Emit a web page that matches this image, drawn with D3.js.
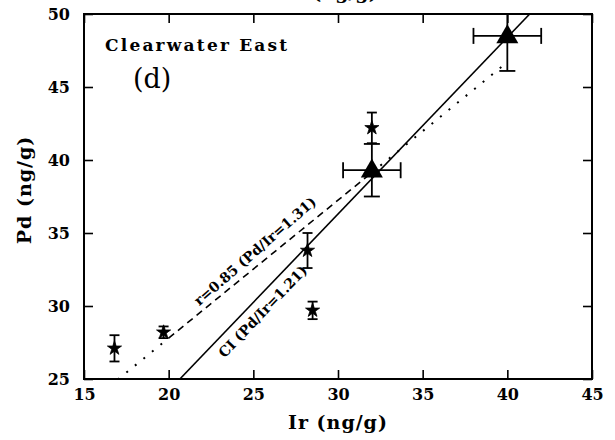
<!DOCTYPE html>
<html>
<head>
<meta charset="utf-8">
<script src="https://cdn.jsdelivr.net/npm/d3@7"></script>
<style>
  html, body { margin: 0; padding: 0; background: #fff; }
  svg { display: block; }
  .serif { font-family: "DejaVu Serif", serif; font-weight: bold; }
</style>
</head>
<body>
<div id="chart"></div>
<script>
// Data
const starIr = [16.8, 19.7, 28.2, 28.5, 32.0];
const starPd = [27.1, 28.2, 33.8, 29.7, 42.2];
const starPdErr = [0.9, 0.4, 1.2, 0.6, 1.05];

const triIr = [32.0, 40.0];
const triPd = [39.3, 48.5];
const triIrErr = [1.7, 2.0];
const triPdErr = [1.8, 2.4];

const xTicks = [15, 20, 25, 30, 35, 40, 45];
const yTicks = [25, 30, 35, 40, 45, 50];

// regression (r=0.85) and CI ratio line
const regSlope = 0.945;
const regIntercept = 8.9;
const regDotLow = [17.0, 20.0];
const regDash = [20.0, 32.0];
const regDotHigh = [32.0, 39.7];
const ciRatio = 1.21;

const width = 615;
const height = 440;
const margin = { top: 14, right: 23, bottom: 61, left: 84 };

const svg = d3
  .select("#chart")
  .append("svg")
  .attr("width", width)
  .attr("height", height);

const x = d3
  .scaleLinear()
  .domain([15, 45])
  .range([margin.left, width - margin.right]);
const y = d3
  .scaleLinear()
  .domain([25, 50])
  .range([height - margin.bottom, margin.top]);

svg
  .append("clipPath")
  .attr("id", "plot-clip")
  .append("rect")
  .attr("x", margin.left)
  .attr("y", margin.top)
  .attr("width", x(45) - x(15))
  .attr("height", y(25) - y(50));

// cut-off title of the panel above
svg
  .append("text")
  .attr("class", "serif")
  .attr("x", 345)
  .attr("y", -1)
  .attr("text-anchor", "middle")
  .attr("font-size", 19)
  .text("(ng/g)");

// Axes (ticks pointing inward on all four sides)
const tickLen = 9;
const axisStyle = (g) =>
  g
    .attr("font-size", null)
    .attr("font-family", null)
    .call((g) => g.select(".domain").remove())
    .call((g) => g.selectAll(".tick line").attr("stroke", "#000").attr("stroke-width", 1.6));

svg
  .append("g")
  .attr("class", "serif")
  .attr("font-size", 19)
  .attr("transform", `translate(0,${y(25)})`)
  .call(d3.axisBottom(x).tickValues(xTicks).tickSize(-tickLen).tickPadding(10).tickFormat(d3.format("d")))
  .call(axisStyle)
  .call((g) => g.selectAll(".tick text").attr("fill", "#000"));
svg
  .append("g")
  .attr("transform", `translate(0,${y(50)})`)
  .call(d3.axisTop(x).tickValues(xTicks).tickSize(-tickLen).tickFormat(""))
  .call(axisStyle);
svg
  .append("g")
  .attr("class", "serif")
  .attr("font-size", 19)
  .attr("transform", `translate(${x(15)},0)`)
  .call(d3.axisLeft(y).tickValues(yTicks).tickSize(-tickLen).tickPadding(14).tickFormat(d3.format("d")))
  .call(axisStyle)
  .call((g) => g.selectAll(".tick text").attr("fill", "#000"));
svg
  .append("g")
  .attr("transform", `translate(${x(45)},0)`)
  .call(d3.axisRight(y).tickValues(yTicks).tickSize(-tickLen).tickFormat(""))
  .call(axisStyle);

svg
  .append("rect")
  .attr("x", x(15))
  .attr("y", y(50))
  .attr("width", x(45) - x(15))
  .attr("height", y(25) - y(50))
  .attr("fill", "none")
  .attr("stroke", "#000")
  .attr("stroke-width", 2);

// Axis titles
svg
  .append("text")
  .attr("class", "serif")
  .attr("x", (x(15) + x(45)) / 2)
  .attr("y", 429)
  .attr("text-anchor", "middle")
  .attr("font-size", 19)
  .attr("letter-spacing", 1)
  .text("Ir (ng/g)");
svg
  .append("text")
  .attr("class", "serif")
  .attr("transform", `translate(31,${190}) rotate(-90)`)
  .attr("text-anchor", "middle")
  .attr("font-size", 19)
  .attr("letter-spacing", 1)
  .text("Pd (ng/g)");

const plot = svg.append("g").attr("clip-path", "url(#plot-clip)");

// Lines
const reg = (ir) => regIntercept + regSlope * ir;
const segment = (range, f) =>
  plot
    .append("line")
    .attr("x1", x(range[0]))
    .attr("y1", y(f(range[0])))
    .attr("x2", x(range[1]))
    .attr("y2", y(f(range[1])))
    .attr("stroke", "#000");

segment(regDotLow, reg).attr("stroke-width", 2).attr("stroke-dasharray", "2,9");
segment(regDash, reg).attr("stroke-width", 1.6).attr("stroke-dasharray", "7,5");
segment(regDotHigh, reg).attr("stroke-width", 2).attr("stroke-dasharray", "2,9");
segment([25 / ciRatio, 50 / ciRatio], (ir) => ciRatio * ir).attr("stroke-width", 1.6);

// Line labels
const regAngle = (Math.atan2(y(reg(30)) - y(reg(20)), x(30) - x(20)) * 180) / Math.PI;
const ciAngle = (Math.atan2(y(ciRatio * 30) - y(ciRatio * 20), x(30) - x(20)) * 180) / Math.PI;
svg
  .append("text")
  .attr("class", "serif")
  .attr("font-size", 14)
  .attr("text-anchor", "middle")
  .attr("transform", `translate(${x(25.6)},${y(reg(25.6))}) rotate(${regAngle - 2})`)
  .attr("dy", -8)
  .text("r=0.85 (Pd/Ir=1.31)");
svg
  .append("text")
  .attr("class", "serif")
  .attr("font-size", 14)
  .attr("text-anchor", "middle")
  .attr("transform", `translate(${x(25.0)},${y(ciRatio * 25.0)}) rotate(${ciAngle})`)
  .attr("dy", 18)
  .text("CI (Pd/Ir=1.21)");

// Error bars
const errG = plot.append("g").attr("stroke", "#000").attr("stroke-width", 1.8);
const vErr = (cx, lo, hi, cap) => {
  errG.append("line").attr("x1", x(cx)).attr("x2", x(cx)).attr("y1", y(lo)).attr("y2", y(hi));
  [lo, hi].forEach((v) =>
    errG.append("line").attr("x1", x(cx) - cap).attr("x2", x(cx) + cap).attr("y1", y(v)).attr("y2", y(v))
  );
};
const hErr = (cy, lo, hi, cap) => {
  errG.append("line").attr("x1", x(lo)).attr("x2", x(hi)).attr("y1", y(cy)).attr("y2", y(cy));
  [lo, hi].forEach((v) =>
    errG.append("line").attr("x1", x(v)).attr("x2", x(v)).attr("y1", y(cy) - cap).attr("y2", y(cy) + cap)
  );
};
starIr.forEach((d, i) => vErr(d, starPd[i] - starPdErr[i], starPd[i] + starPdErr[i], 5));
triIr.forEach((d, i) => {
  vErr(d, triPd[i] - triPdErr[i], triPd[i] + triPdErr[i], 8);
  hErr(triPd[i], d - triIrErr[i], d + triIrErr[i], 8);
});

// Markers
plot
  .selectAll(".star")
  .data(starIr)
  .join("path")
  .attr("class", "star")
  .attr("d", d3.symbol(d3.symbolStar, 62))
  .attr("transform", (d, i) => `translate(${x(d)},${y(starPd[i])})`)
  .attr("fill", "#000")
  .attr("stroke", "#000")
  .attr("stroke-width", 0.8);
plot
  .selectAll(".tri")
  .data(triIr)
  .join("path")
  .attr("class", "tri")
  .attr("d", d3.symbol(d3.symbolTriangle, 210))
  .attr("transform", (d, i) => `translate(${x(d)},${y(triPd[i]) + 1})`)
  .attr("fill", "#000");

// Panel labels
svg
  .append("text")
  .attr("class", "serif")
  .attr("x", 105)
  .attr("y", 51)
  .attr("font-size", 17)
  .attr("letter-spacing", 2.2)
  .text("Clearwater East");
svg
  .append("text")
  .attr("x", 133)
  .attr("y", 88)
  .attr("font-family", "'DejaVu Serif', serif")
  .attr("font-size", 27)
  .text("(d)");
</script>
</body>
</html>
